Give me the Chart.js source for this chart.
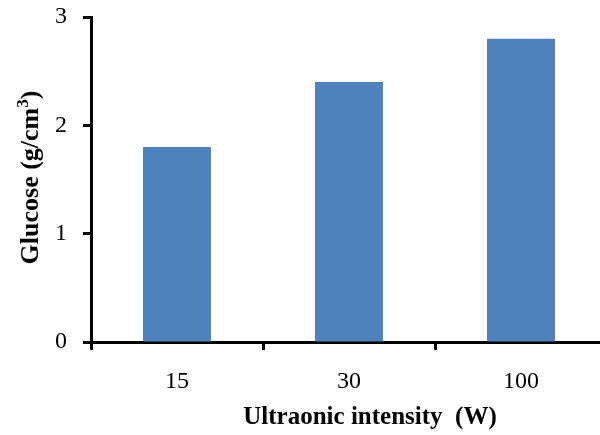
<!DOCTYPE html>
<html>
<head>
<meta charset="utf-8">
<script src="https://cdn.jsdelivr.net/npm/chart.js@4"></script>
<style>
html,body{margin:0;padding:0;background:#fff;overflow:hidden;width:600px;height:435px;}
#wrap{width:608px;height:435px;position:relative;}
</style>
</head>
<body>
<div id="wrap"><canvas id="c"></canvas></div>
<script>
const categories = ["15", "30", "100"];
const glucose = [1.8, 2.4, 2.8];
const yTicks = [0, 1, 2, 3];
const xTitle = "Ultraonic intensity  (W)";
const yTitle = "Glucose (g/cm";
const yTitleSup = "3";

const FONT = "'Liberation Serif', 'Times New Roman', serif";

const axisTitles = {
  id: 'axisTitles',
  afterDraw(chart) {
    const ctx = chart.ctx;
    const area = chart.chartArea;
    ctx.save();
    ctx.fillStyle = '#000';
    ctx.font = "bold 25px " + FONT;
    ctx.textAlign = 'center';
    ctx.textBaseline = 'alphabetic';
    ctx.fillText(xTitle, 370, 424);
    // y title rotated with superscript
    ctx.translate(38, (area.top + area.bottom) / 2 - 2);
    ctx.rotate(-Math.PI / 2);
    const main = yTitle;
    const sup = yTitleSup;
    const close = ")";
    ctx.font = "bold 26px " + FONT;
    const wMain = ctx.measureText(main).width;
    const wClose = ctx.measureText(close).width;
    ctx.font = "bold 17px " + FONT;
    const wSup = ctx.measureText(sup).width;
    const total = wMain + wSup + wClose;
    let x = -total / 2;
    ctx.textAlign = 'left';
    ctx.font = "bold 26px " + FONT;
    ctx.fillText(main, x, 0);
    x += wMain;
    ctx.font = "bold 17px " + FONT;
    ctx.fillText(sup, x, -10);
    x += wSup;
    ctx.font = "bold 26px " + FONT;
    ctx.fillText(close, x, 0);
    ctx.restore();
  }
};

new Chart(document.getElementById('c'), {
  type: 'bar',
  data: {
    labels: categories,
    datasets: [{
      data: glucose,
      backgroundColor: '#4F81BD',
      borderWidth: 0,
      categoryPercentage: 1.0,
      barPercentage: 0.395
    }]
  },
  options: {
    responsive: true,
    maintainAspectRatio: false,
    animation: false,
    layout: { padding: { top: 17, right: 1, left: 0, bottom: 0 } },
    plugins: { legend: { display: false }, tooltip: { enabled: false } },
    scales: {
      x: {
        offset: true,
        border: { display: true, color: '#000', width: 3 },
        grid: { display: true, drawOnChartArea: false, drawTicks: true, tickLength: 8, tickWidth: 3, tickColor: '#000', offset: true },
        ticks: { color: '#000', font: { family: FONT, size: 24 }, padding: 17, maxRotation: 0 },
        afterFit(scale) { scale.height = 93; scale.paddingLeft = 0; scale.paddingRight = 0; }
      },
      y: {
        min: 0, max: 3,
        border: { display: true, color: '#000', width: 3 },
        grid: { display: true, drawOnChartArea: false, drawTicks: true, tickLength: 8, tickWidth: 3, tickColor: '#000' },
        afterBuildTicks(scale) { scale.ticks = yTicks.map(v => ({ value: v })); },
        ticks: { color: '#000', font: { family: FONT, size: 24 }, padding: 16 },
        afterFit(scale) { scale.width = 91; scale.paddingTop = 0; scale.paddingBottom = 0; }
      }
    }
  },
  plugins: [axisTitles]
});
</script>
</body>
</html>
